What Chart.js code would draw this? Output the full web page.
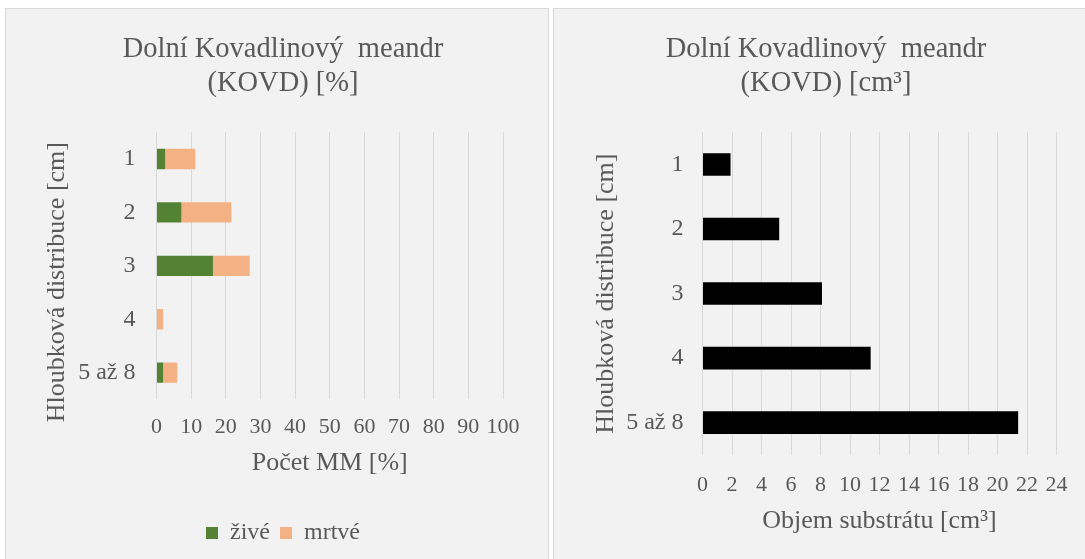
<!DOCTYPE html>
<html>
<head>
<meta charset="utf-8">
<script src="https://cdn.jsdelivr.net/npm/chart.js@4.4.1/dist/chart.umd.min.js"></script>
<style>
  body { margin: 0; background: #fff; width: 1085px; height: 559px; overflow: hidden; position: relative; }
  .box { position: absolute; top: 8px; height: 560px; border: 1px solid #d9d9d9; background: #f2f2f2; }
  #boxL { left: 5px; width: 542px; }
  #boxR { left: 553px; width: 540px; }
  .box canvas { display: block; }
</style>
</head>
<body>
<div class="box" id="boxL"><canvas id="chartL" width="542" height="550"></canvas></div>
<div class="box" id="boxR"><canvas id="chartR" width="531" height="550"></canvas></div>

<script>
// ── data ──
const depthLabels  = ["1", "2", "3", "4", "5 až 8"];
const liveValues   = [2.5, 7.2, 16.3, 0, 1.9];     // živé [%]
const deadValues   = [8.7, 14.4, 10.6, 1.9, 4.1];  // mrtvé [%]
const volumeValues = [1.9, 5.2, 8.1, 11.4, 21.4];  // objem substrátu [cm³]

const titleLeft  = ["Dolní Kovadlinový  meandr", "(KOVD) [%]"];
const titleRight = ["Dolní Kovadlinový  meandr", "(KOVD) [cm³]"];

// ── shared styles ──
const FONT  = "'Liberation Serif', 'Times New Roman', serif";
const TEXT  = "#595959";
const GRID  = "#d9d9d9";

function titleOpts(lines) {
  return {
    display: true,
    text: lines,
    color: TEXT,
    font: { family: FONT, size: 28.5, weight: "normal", lineHeight: 1.18 },
    padding: { top: 12, bottom: 32 },
  };
}

// axis titles are pinned to the outer edge, so their padding is tuned by hand
function yAxis(tickPad, label, titlePad) {
  return {
    stacked: true,
    grid: { display: false, drawTicks: false },
    border: { display: false },
    ticks: { color: TEXT, font: { family: FONT, size: 24 }, padding: tickPad },
    title: {
      display: true,
      text: label,
      color: TEXT,
      font: { family: FONT, size: 26 },
      padding: titlePad,
    },
  };
}

function xAxis(max, step, label, tickPad, titlePad) {
  return {
    stacked: true,
    min: 0,
    max: max,
    grid: { color: GRID, lineWidth: 1, drawTicks: false },
    border: { display: false },
    ticks: {
      stepSize: step, color: TEXT, font: { family: FONT, size: 22 }, padding: tickPad,
      maxRotation: 0, minRotation: 0, autoSkip: false,
    },
    title: {
      display: true,
      text: label,
      color: TEXT,
      font: { family: FONT, size: 26 },
      padding: titlePad,
    },
  };
}

// ── left: stacked % ──
new Chart(document.getElementById("chartL"), {
  type: "bar",
  data: {
    labels: depthLabels,
    datasets: [
      { label: "živé",  data: liveValues, backgroundColor: "#548235", barPercentage: 0.38, categoryPercentage: 1 },
      { label: "mrtvé", data: deadValues, backgroundColor: "#f4b183", barPercentage: 0.38, categoryPercentage: 1 },
    ],
  },
  options: {
    indexAxis: "y",
    responsive: false,
    animation: false,
    layout: { padding: { top: 12, left: 57, right: 45, bottom: 4 } },
    plugins: {
      title: titleOpts(titleLeft),
      tooltip: { enabled: false },
      legend: {
        position: "bottom",
        labels: {
          color: TEXT,
          boxWidth: 12,
          boxHeight: 12,
          padding: 10,
          font: { family: FONT, size: 24 },
        },
      },
    },
    scales: {
      x: xAxis(100, 10, "Počet MM [%]", 15, { top: -8, bottom: 32 }),
      // trailing spaces push the rotated title down, like in the original
      y: yAxis(21, "Hloubková distribuce [cm]     ", { top: -21, bottom: -16 }),
    },
  },
});

// ── right: volume ──
new Chart(document.getElementById("chartR"), {
  type: "bar",
  data: {
    labels: depthLabels,
    datasets: [
      { label: "Objem", data: volumeValues, backgroundColor: "#000000", barPercentage: 0.35, categoryPercentage: 1 },
    ],
  },
  options: {
    indexAxis: "y",
    responsive: false,
    animation: false,
    layout: { padding: { top: 12, left: 41, right: 28, bottom: 0 } },
    plugins: {
      title: titleOpts(titleRight),
      tooltip: { enabled: false },
      legend: { display: false },
    },
    scales: {
      x: Object.assign(xAxis(24, 2, "Objem substrátu [cm³]", 17.5, { top: -10.5, bottom: 22 }), { stacked: false }),
      y: Object.assign(yAxis(19, "Hloubková distribuce [cm]", { top: -4, bottom: -15 }), { stacked: false }),
    },
  },
});
</script>
</body>
</html>
